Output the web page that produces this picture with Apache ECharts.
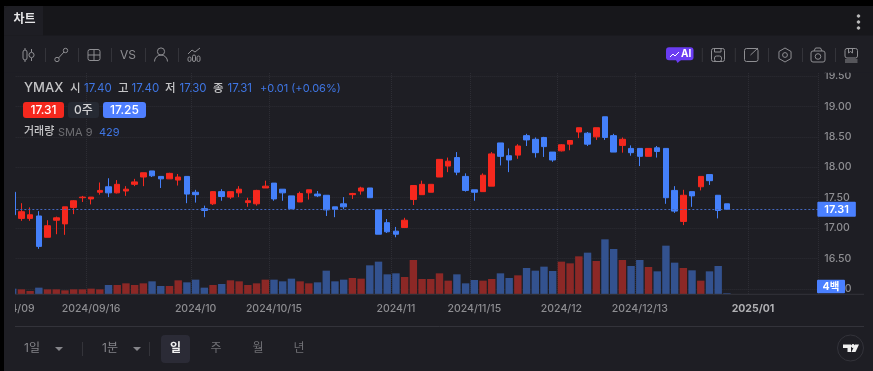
<!DOCTYPE html>
<html><head><meta charset="utf-8">
<style>html,body{margin:0;padding:0;background:#000;overflow:hidden}#c{width:873px;height:371px}</style>
<script src="https://cdn.jsdelivr.net/npm/echarts@6/dist/echarts.min.js"></script>
</head><body><div id="c"></div>
<script>
const opens=[17.59,17.16,17.16,17.20,16.85,17.13,17.07,17.34,17.50,17.48,17.59,17.68,17.58,17.61,17.72,17.84,17.94,17.85,17.81,17.79,17.85,17.59,17.32,17.40,17.60,17.51,17.58,17.42,17.40,17.66,17.74,17.64,17.53,17.43,17.58,17.56,17.54,17.35,17.40,17.55,17.61,17.66,17.30,17.09,16.95,17.01,17.47,17.55,17.59,17.84,18.02,18.16,17.85,17.63,17.60,17.69,18.40,18.19,18.20,18.52,18.46,18.49,18.25,18.27,18.38,18.58,18.56,18.50,18.83,18.52,18.36,18.31,18.31,18.18,18.32,18.31,17.62,17.11,17.60,17.68,17.88,17.54,17.40];
const closes=[17.22,17.27,17.22,16.70,17.04,17.17,17.35,17.45,17.51,17.51,17.62,17.58,17.72,17.64,17.76,17.91,17.86,17.81,17.90,17.84,17.56,17.55,17.29,17.60,17.52,17.60,17.64,17.45,17.62,17.69,17.48,17.58,17.32,17.57,17.63,17.53,17.30,17.31,17.35,17.57,17.66,17.50,16.90,16.94,16.90,17.13,17.70,17.72,17.72,18.13,18.10,17.92,17.62,17.59,17.87,18.22,18.18,18.12,18.35,18.45,18.24,18.34,18.12,18.37,18.44,18.65,18.38,18.65,18.49,18.25,18.46,18.24,18.18,18.31,18.26,17.50,17.28,17.54,17.53,17.85,17.78,17.29,17.31];
const lows=[17.22,17.12,17.12,16.66,16.85,16.90,16.89,17.23,17.43,17.39,17.55,17.51,17.57,17.53,17.69,17.69,17.84,17.66,17.81,17.70,17.41,17.42,17.18,17.38,17.45,17.48,17.51,17.35,17.37,17.66,17.45,17.45,17.31,17.43,17.47,17.51,17.20,17.18,17.31,17.48,17.55,17.50,16.90,16.92,16.85,17.01,17.38,17.55,17.59,17.84,17.92,17.87,17.60,17.45,17.60,17.69,18.03,17.92,18.14,18.35,18.16,18.17,18.09,18.26,18.28,18.48,18.35,18.45,18.45,18.25,18.24,18.19,18.02,18.18,18.16,17.40,17.25,17.05,17.35,17.62,17.71,17.16,17.30];
const highs=[17.59,17.41,17.34,17.28,17.13,17.19,17.35,17.46,17.53,17.51,17.75,17.82,17.79,17.69,17.81,17.91,17.94,17.85,17.91,17.89,17.85,17.63,17.37,17.61,17.64,17.60,17.69,17.50,17.63,17.78,17.74,17.64,17.53,17.60,17.63,17.61,17.54,17.35,17.51,17.58,17.68,17.66,17.30,17.15,17.02,17.17,17.70,17.78,17.72,18.13,18.16,18.25,17.90,17.63,17.90,18.25,18.40,18.31,18.38,18.55,18.49,18.50,18.25,18.38,18.44,18.65,18.58,18.65,18.83,18.55,18.49,18.36,18.31,18.31,18.35,18.31,17.69,17.63,17.60,17.85,17.88,17.54,17.40];
const volumes=[3200,2800,1800,3800,2800,2800,2200,2800,2800,3200,2800,5400,5400,6400,5400,6400,7600,4800,4800,8200,7000,8600,3800,5400,6000,8200,7600,5400,6400,8600,8600,7600,9200,7600,6400,7000,14000,7600,8600,9600,9200,17200,19400,11800,12400,10200,20400,9000,9000,12400,8000,11800,6400,8400,8000,9000,12400,9600,11200,15600,14000,16400,13800,19400,18400,22600,24800,19800,32800,27000,20400,16800,20400,16200,13600,29000,18800,15600,14200,8000,13600,16800,429];
const tickIndex=[0,9,21,30,44,53,63,72,85];
const tickLabels=['2024/09','2024/09/16','2024/10','2024/10/15','2024/11','2024/11/15','2024/12','2024/12/13','2025/01'];
const slotCount=93;
const priceTicks={min:16,max:19.5,step:0.5};
const volumeAxisMax=132600;
const categories=Array.from({length:slotCount},(_,i)=>{const k=tickIndex.indexOf(i);return k>=0?tickLabels[k]:'s'+i;});
const candleData=opens.map((o,i)=>[o,closes[i],lows[i],highs[i]]);
const lastClose=closes[closes.length-1];

const UP='#f5281e',DOWN='#4480fa',BG='#1e1e24',FF='Inter,"Noto Sans CJK KR",sans-serif',ICON='#8e8e92';
const Z=100;
const R=(x,y,w,h,fill,r,stroke)=>({type:'rect',z:Z,silent:true,shape:{x,y,width:w,height:h,r:r||0},style:{fill:fill||'none',stroke:stroke||null,lineWidth:1}});
const L=(x1,y1,x2,y2,c)=>({type:'line',z:Z+1,silent:true,shape:{x1,y1,x2,y2},style:{stroke:c||ICON,lineWidth:1}});
const C=(cx,cy,r,stroke,fill)=>({type:'circle',z:Z+1,silent:true,shape:{cx,cy,r},style:{stroke:stroke||ICON,fill:fill||'none',lineWidth:1}});
const P=(pts,c)=>({type:'polyline',z:Z+1,silent:true,shape:{points:pts},style:{stroke:c||ICON,fill:'none',lineWidth:1}});
const G=(pts,f)=>({type:'polygon',z:Z+1,silent:true,shape:{points:pts},style:{fill:f,stroke:null}});
const T=(text,x,y,fill,size,weight,align)=>({type:'text',z:Z+2,silent:true,style:{text,x,y,fill,align:align||'left',verticalAlign:'middle',font:(weight||400)+' '+size+'px '+FF}});
const sep=x=>L(x,48,x,62,'#34343a');
const ico=(x,y,w,h)=>({...R(x,y,w,h,'none',2,ICON),z:Z+1});
const gearPts=[];for(let i=0;i<6;i++){const a=Math.PI/6+i*Math.PI/3;gearPts.push([785+7*Math.cos(a),55+7*Math.sin(a)]);}
const BLUE_TXT='#3f76e4',GREY='#c4c4c6';
const elements=[
 R(0,0,873,6,'#000'),R(0,0,4,371,'#000'),
 R(4,36,11,290,BG),
 R(4,36,869,36.7,BG),
 R(4,6,869,29.5,'#17171b',[5,0,0,0]),
 R(4,6,39,29.5,BG,[5,0,0,0]),
 T('차트',13.5,19,'#e6e6e8',12,700),
 C(858.5,16,1.3,'#bbb','#bbb'),C(858.5,22,1.3,'#bbb','#bbb'),C(858.5,28,1.3,'#bbb','#bbb'),
 ico(23,50,4,10),L(25,48,25,50),L(25,60,25,62),C(31.5,55,2.6),L(31.5,49,31.5,52),L(31.5,58,31.5,61),
 sep(45.5),
 C(57,59.5,2.2),C(65.5,50.5,2.2),L(58.5,58,64,52),
 sep(78.5),
 ico(88,49.5,12,11),L(94,49.5,94,60.5),L(88,55,100,55),
 sep(111.5),
 T('VS',120,55.5,ICON,12,400),
 sep(145.5),
 C(161,51.5,3.6),{type:'arc',z:Z+1,silent:true,shape:{cx:161,cy:61.5,r:6.5,startAngle:Math.PI,endAngle:2*Math.PI},style:{stroke:ICON,fill:'none',lineWidth:1}},
 sep(178.5),
 ico(188,57,3,4.5),ico(192.5,55,3,6.5),ico(197,56,3,5.5),P([[188,54],[192,50],[195,52],[200,48]]),
 R(666,47.3,27.5,13,'#6a3cf2',3),G([[676,60],[681,60],[677.5,63]],'#6a3cf2'),
 P([[670,57],[673,54],[675,56],[679,52]],'#fff'),T('AI',681,54,'#fff',10,700),
 sep(702.3),
 ico(711.5,48.5,13,13),L(714.5,48.5,714.5,52),L(714.5,52,721,52),L(721,52,721,48.5),ico(714.5,56,7,5.5),
 sep(735.3),
 ico(744.5,48.5,13.5,13),L(750.5,55,758,48),
 sep(768.5),
 {type:'polygon',z:Z+1,silent:true,shape:{points:gearPts},style:{stroke:ICON,fill:BG,lineWidth:1}},C(785,55,2.4),
 sep(802.5),
 ico(811,51,14,11),C(818,56.5,2.8),P([[814,51],[815.5,48],[820.5,48],[822,51]]),
 sep(835.5),
 ico(845,48.5,12.5,9.5),L(845,60,857.5,60),L(845,62,857.5,62),P([[848.5,48.5],[848.5,53],[850.5,51.5],[852.5,53],[852.5,48.5]]),
 T('YMAX',24,88.5,GREY,13,500),
 T('시',70,89,GREY,11.5,500),T('17.40',84,89,BLUE_TXT,11.5,400),
 T('고',118,89,GREY,11.5,500),T('17.40',131.5,89,BLUE_TXT,11.5,400),
 T('저',165,89,GREY,11.5,500),T('17.30',179.5,89,BLUE_TXT,11.5,400),
 T('종',213,89,GREY,11.5,500),T('17.31',227.5,89,BLUE_TXT,11.5,400),
 T('+0.01 (+0.06%)',260,89,BLUE_TXT,11,400),
 R(23,102,41,16,UP,3),T('17.31',43.5,110.5,'#fff',12,500,'center'),
 R(68,102,31,16,'#262a33',3),T('0주',83.5,110.5,'#d0d0d2',12,500,'center'),
 R(103,102,43,16,'#4f7fff',3),T('17.25',124.5,110.5,'#fff',12,500,'center'),
 T('거래량',24,132,GREY,11,500),T('SMA 9',58,132.5,'#6e6e72',11,400),T('429',99,132.5,BLUE_TXT,11,400),
 R(817,279.7,28,13.5,'#4a80ff',1),T('4백',831,287,'#fff',10.5,700,'center'),
 L(15,294.3,864,294.3,'#33333a'),L(15,326.5,864,326.5,'#33333a'),
 T('1일',24,348,'#85858a',12,400),G([[55,347],[63,347],[59,351]],'#85858a'),
 L(82.5,342,82.5,356,'#34343a'),
 T('1분',102,348,'#85858a',12,400),G([[133,347],[141,347],[137,351]],'#85858a'),
 L(149.5,342,149.5,356,'#34343a'),
 R(161,335,29,28,'#2b2b36',4),T('일',175.5,348.5,'#f2f2f2',12,700,'center'),
 T('주',216,348,'#6f6f74',12,400,'center'),T('월',258,348,'#6f6f74',12,400,'center'),T('년',299,348,'#6f6f74',12,400,'center'),
 C(850.5,348,13,'#33333a',BG),
 G([[843,344.5],[851,344.5],[851,352],[847.5,352],[847.5,348],[843,348]],'#f0f0f0'),C(853,346,1.5,'#f0f0f0','#f0f0f0'),
 G([[855,344.5],[859,344.5],[855.5,352],[851.5,352]],'#f0f0f0')
];

const grid={left:8.35,width:810,outerBoundsMode:'none',containLabel:false};
const option={
 animation:false,backgroundColor:BG,
 grid:[{...grid,top:76,height:213},{...grid,top:73,height:221}],
 xAxis:[
  {type:'category',gridIndex:0,data:categories,axisLine:{show:false},axisTick:{show:false},axisLabel:{show:false},splitLine:{show:false}},
  {type:'category',gridIndex:1,data:categories,axisLine:{show:false},axisTick:{show:false},
   splitLine:{show:true,interval:i=>tickIndex.includes(i),lineStyle:{color:'#2d2d34',type:'dotted',width:1}},
   axisLabel:{interval:i=>tickIndex.includes(i),hideOverlap:false,margin:10,color:'#8e8e92',fontFamily:FF,fontSize:10.5,fontWeight:500,
    formatter:v=>v==='2025/01'?'{b|'+v+'}':v,rich:{b:{color:'#b0b0b3',fontWeight:700,fontSize:10.5,fontFamily:FF}}}}
 ],
 yAxis:[
  {type:'value',gridIndex:0,position:'right',min:priceTicks.min,max:priceTicks.max,interval:priceTicks.step,
   axisLine:{show:false},axisTick:{show:false},
   axisLabel:{margin:6,color:'#8e8e92',fontFamily:FF,fontSize:10.5,fontWeight:500,formatter:v=>v.toFixed(2),showMinLabel:true,showMaxLabel:true},
   splitLine:{show:true,lineStyle:{color:'#2d2d34',type:'dotted',width:1}}},
  {type:'value',gridIndex:1,min:0,max:volumeAxisMax,show:false,splitLine:{show:false}}
 ],
 graphic:{elements},
 series:[
  {type:'bar',xAxisIndex:1,yAxisIndex:1,data:volumes,barWidth:7.4,z:1,
   itemStyle:{color:p=>closes[p.dataIndex]>=opens[p.dataIndex]?'#8c2826':'#33528f'}},
  {type:'candlestick',xAxisIndex:0,yAxisIndex:0,data:candleData,barWidth:6,z:3,clip:false,
   itemStyle:{color:UP,color0:DOWN,borderColor:UP,borderColor0:DOWN,borderWidth:1},
   markLine:{silent:true,symbol:'none',animation:false,data:[{yAxis:lastClose}],
    lineStyle:{color:'#4468bd',type:[2,2],width:1},
    label:{position:'end',distance:-1,formatter:p=>p.value.toFixed(2),color:'#fff',backgroundColor:'#4a80ff',fontFamily:FF,fontSize:11,fontWeight:600,padding:[2,7,2,7],borderRadius:1,lineHeight:11}}}
 ]
};
echarts.init(document.getElementById('c'),null,{renderer:'canvas'}).setOption(option);
</script></body></html>
